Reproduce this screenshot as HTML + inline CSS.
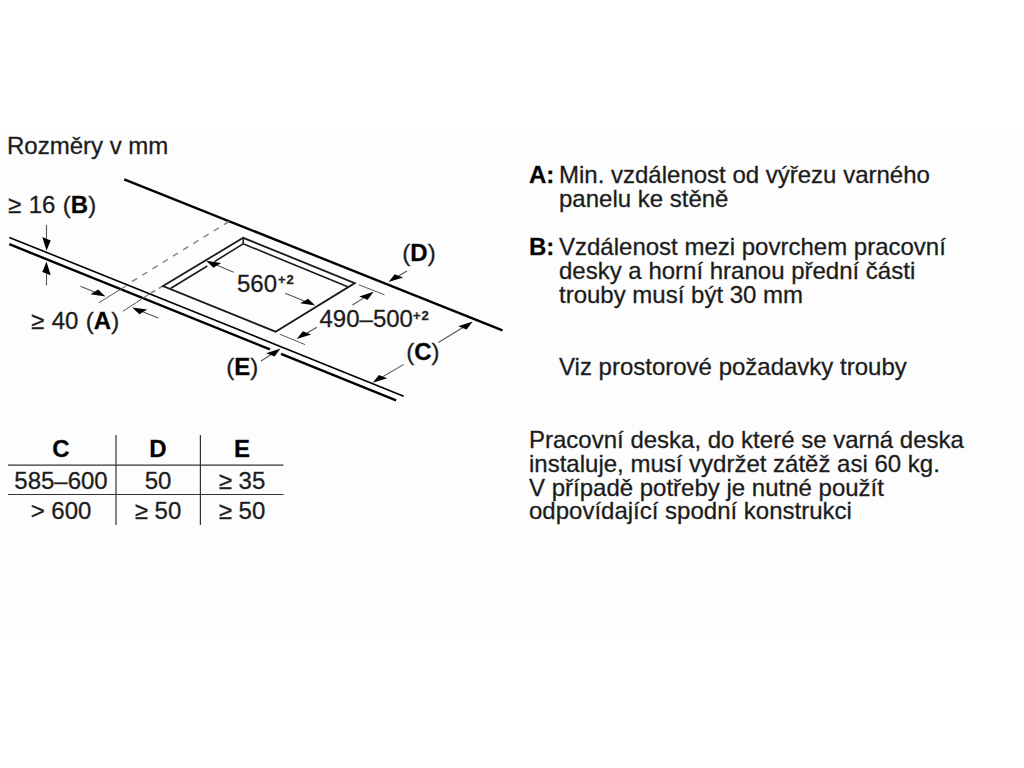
<!DOCTYPE html>
<html><head><meta charset="utf-8"><style>
html,body{margin:0;padding:0;background:#fff;width:1024px;height:768px;overflow:hidden}
svg{position:absolute;left:0;top:0}
.band{position:absolute;left:0;top:128px;width:1024px;height:512px;background:#fdfdfd}
text{font-family:"Liberation Sans", sans-serif;stroke:#2a2a2a;stroke-width:0.3px}
</style></head><body>
<div class="band"></div>
<svg width="1024" height="768" viewBox="0 0 1024 768">
<line x1="124.2" y1="179.3" x2="502.5" y2="330.4" stroke="#000" stroke-width="2.4" /><line x1="9.3" y1="237.4" x2="403.7" y2="396.2" stroke="#000" stroke-width="1.6" /><line x1="9.3" y1="244.2" x2="270" y2="349.4" stroke="#000" stroke-width="2.4" /><line x1="281" y1="353.8" x2="396.1" y2="400.3" stroke="#000" stroke-width="2.4" /><line x1="229" y1="221.5" x2="128" y2="284" stroke="#888" stroke-width="1.5" stroke-dasharray="6 6"/><line x1="126.7" y1="285.6" x2="98.6" y2="302.8" stroke="#555" stroke-width="1.0" /><line x1="163" y1="286" x2="150" y2="293.5" stroke="#888" stroke-width="1.5" stroke-dasharray="5 4"/><line x1="150" y1="293.5" x2="122.8" y2="311.4" stroke="#555" stroke-width="1.0" /><polygon points="163,286 243.2,237.8 354.8,283.1 275.6,331.7" fill="none" stroke="#1a1a1a" stroke-width="1.8" stroke-linejoin="miter"/><polyline points="170.5,288.5 207.3,266" fill="none" stroke="#1a1a1a" stroke-width="1.6"/><polyline points="214.5,261.6 243.2,243.8 347.8,286.8" fill="none" stroke="#1a1a1a" stroke-width="1.6"/><line x1="243.2" y1="237.8" x2="243.2" y2="243.8" stroke="#1a1a1a" stroke-width="1.5" /><line x1="358.75" y1="284.7" x2="384.5" y2="294.8" stroke="#555" stroke-width="1.0" /><line x1="279.8" y1="334.2" x2="305.1" y2="344.6" stroke="#555" stroke-width="1.0" /><line x1="46.5" y1="224.9" x2="46.5" y2="238.8" stroke="#555" stroke-width="1.1"/><polygon points="46.5,250.8 50.7,240.5 42.3,237.1" fill="#000"/><line x1="46.5" y1="285.4" x2="46.5" y2="273.6" stroke="#555" stroke-width="1.1"/><polygon points="46.5,261.6 50.7,275.3 42.3,271.9" fill="#000"/><line x1="80.5" y1="286.3" x2="94.4" y2="291.9" stroke="#555" stroke-width="1.1"/><polygon points="105.5,296.4 98.2,289.6 90.5,294.2" fill="#000"/><line x1="158.4" y1="318.0" x2="143.2" y2="311.9" stroke="#555" stroke-width="1.1"/><polygon points="132.1,307.4 147.1,309.6 139.4,314.2" fill="#000"/><line x1="233.6" y1="272.2" x2="217.3" y2="265.3" stroke="#555" stroke-width="1.1"/><polygon points="206.2,260.7 221.1,263.0 213.4,267.7" fill="#000"/><line x1="285.3" y1="293.3" x2="304.2" y2="301.0" stroke="#555" stroke-width="1.1"/><polygon points="315.3,305.5 308.0,298.7 300.3,303.3" fill="#000"/><line x1="352.5" y1="305.0" x2="363.4" y2="298.1" stroke="#555" stroke-width="1.1"/><polygon points="373.6,291.7 367.6,299.8 359.3,296.4" fill="#000"/><line x1="316.8" y1="327.3" x2="307.1" y2="333.0" stroke="#555" stroke-width="1.1"/><polygon points="296.7,339.0 311.2,334.6 302.9,331.3" fill="#000"/><line x1="407.0" y1="271.0" x2="398.9" y2="275.8" stroke="#555" stroke-width="1.1"/><polygon points="388.6,282.0 403.1,277.5 394.7,274.2" fill="#000"/><line x1="438.4" y1="342.5" x2="462.5" y2="327.8" stroke="#555" stroke-width="1.1"/><polygon points="472.7,321.6 466.6,329.5 458.3,326.2" fill="#000"/><line x1="403.7" y1="364.4" x2="383.0" y2="376.6" stroke="#555" stroke-width="1.1"/><polygon points="372.7,382.7 387.2,378.3 378.9,374.9" fill="#000"/><line x1="261.0" y1="361.0" x2="270.4" y2="355.0" stroke="#555" stroke-width="1.1"/><polygon points="280.5,348.5 274.6,356.6 266.2,353.3" fill="#000"/>
<text x="7" y="153.6" font-size="24" font-weight="normal" fill="#1a1a1a" text-anchor="start">Rozměry v mm</text><text word-spacing="0.8" x="8" y="213.4" font-size="24" font-weight="normal" fill="#1a1a1a" text-anchor="start">≥ 16 (<tspan font-weight="bold" fill="#000">B</tspan>)</text><text word-spacing="0.8" x="31" y="329" font-size="24" font-weight="normal" fill="#1a1a1a" text-anchor="start">≥ 40 (<tspan font-weight="bold" fill="#000">A</tspan>)</text><text x="402.3" y="260.9" font-size="24" font-weight="normal" fill="#1a1a1a" text-anchor="start">(<tspan font-weight="bold" fill="#000">D</tspan>)</text><text x="406.2" y="360.1" font-size="24" font-weight="normal" fill="#1a1a1a" text-anchor="start">(<tspan font-weight="bold" fill="#000">C</tspan>)</text><text x="226.2" y="374.7" font-size="24" font-weight="normal" fill="#1a1a1a" text-anchor="start">(<tspan font-weight="bold" fill="#000">E</tspan>)</text><text x="237" y="292" font-size="24" font-weight="normal" fill="#1a1a1a" text-anchor="start">560</text><text x="278" y="284.4" font-size="13" font-weight="bold" letter-spacing="1" fill="#222">+2</text><text x="319.5" y="327.3" font-size="24" font-weight="normal" fill="#1a1a1a" text-anchor="start">490–500</text><text x="413" y="319.8" font-size="13" font-weight="bold" letter-spacing="1" fill="#222">+2</text><line x1="8" y1="465.2" x2="283.5" y2="465.2" stroke="#333" stroke-width="1.2" /><line x1="8" y1="494.5" x2="283.5" y2="494.5" stroke="#333" stroke-width="1.2" /><line x1="116" y1="435" x2="116" y2="525" stroke="#333" stroke-width="1.2" /><line x1="200.4" y1="435" x2="200.4" y2="525" stroke="#333" stroke-width="1.2" /><text x="61" y="457.2" font-size="24" font-weight="normal" fill="#1a1a1a" text-anchor="middle"><tspan font-weight="bold" fill="#000">C</tspan></text><text x="158" y="457.2" font-size="24" font-weight="normal" fill="#1a1a1a" text-anchor="middle"><tspan font-weight="bold" fill="#000">D</tspan></text><text x="242" y="457.2" font-size="24" font-weight="normal" fill="#1a1a1a" text-anchor="middle"><tspan font-weight="bold" fill="#000">E</tspan></text><text x="61" y="489.1" font-size="24" font-weight="normal" fill="#1a1a1a" text-anchor="middle">585–600</text><text x="158" y="489.1" font-size="24" font-weight="normal" fill="#1a1a1a" text-anchor="middle">50</text><text x="242" y="489.1" font-size="24" font-weight="normal" fill="#1a1a1a" text-anchor="middle">≥ 35</text><text x="61" y="518.7" font-size="24" font-weight="normal" fill="#1a1a1a" text-anchor="middle">&gt; 600</text><text x="158" y="518.7" font-size="24" font-weight="normal" fill="#1a1a1a" text-anchor="middle">≥ 50</text><text x="242" y="518.7" font-size="24" font-weight="normal" fill="#1a1a1a" text-anchor="middle">≥ 50</text><text x="529" y="182.5" font-size="24" font-weight="normal" fill="#1a1a1a" text-anchor="start"><tspan font-weight="bold" fill="#000">A:</tspan></text><text x="559" y="182.5" font-size="24" font-weight="normal" fill="#1a1a1a" text-anchor="start">Min. vzdálenost od výřezu varného</text><text x="559" y="206.6" font-size="24" font-weight="normal" fill="#1a1a1a" text-anchor="start">panelu ke stěně</text><text x="529" y="254.9" font-size="24" font-weight="normal" fill="#1a1a1a" text-anchor="start"><tspan font-weight="bold" fill="#000">B:</tspan></text><text x="559" y="254.9" font-size="24" font-weight="normal" fill="#1a1a1a" text-anchor="start">Vzdálenost mezi povrchem pracovní</text><text x="559" y="278.9" font-size="24" font-weight="normal" fill="#1a1a1a" text-anchor="start">desky a horní hranou přední části</text><text x="559" y="302.9" font-size="24" font-weight="normal" fill="#1a1a1a" text-anchor="start">trouby musí být 30 mm</text><text x="559" y="375.2" font-size="24" font-weight="normal" fill="#1a1a1a" text-anchor="start">Viz prostorové požadavky trouby</text><text x="529" y="447.7" font-size="24" font-weight="normal" fill="#1a1a1a" text-anchor="start">Pracovní deska, do které se varná deska</text><text x="529" y="471.59999999999997" font-size="24" font-weight="normal" fill="#1a1a1a" text-anchor="start">instaluje, musí vydržet zátěž asi 60 kg.</text><text x="529" y="495.5" font-size="24" font-weight="normal" fill="#1a1a1a" text-anchor="start">V případě potřeby je nutné použít</text><text x="529" y="519.4" font-size="24" font-weight="normal" fill="#1a1a1a" text-anchor="start">odpovídající spodní konstrukci</text>
</svg>
</body></html>
